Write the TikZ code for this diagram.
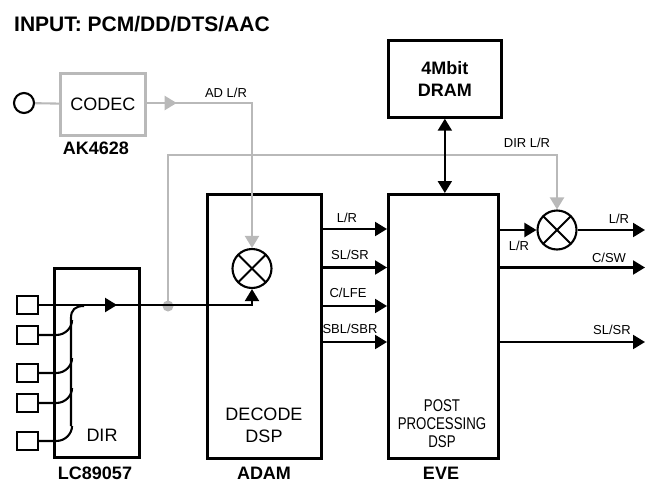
\documentclass[tikz,border=0pt]{standalone}
\usepackage{fontspec}
\setmainfont{Liberation Sans}
\usepackage{tikz}
\usetikzlibrary{arrows.meta, decorations.markings}
\definecolor{sigGray}{HTML}{B9B9B9}
\tikzset{
    >={Triangle[length=12pt,width=14pt]},
    sig/.style={line width=2.1pt},
    sigIn/.style={line width=2.1pt, sigGray},
    mid arrow/.style={postaction={decorate, decoration={markings, mark=at position #1 with {\arrow{>}}}}},
    chip/.style={draw, line width=2.7pt, anchor=north west, inner sep=0pt},
    chipIn/.style={chip, sigGray},
    pinBox/.style={draw, line width=2.1pt, minimum width=21pt, minimum height=18pt, inner sep=0pt},
    mixer/.style={circle, draw, line width=2.1pt, minimum size=39pt, inner sep=0pt,
        path picture={
            \draw[line width=2.1pt] (path picture bounding box.north west) -- (path picture bounding box.south east);
            \draw[line width=2.1pt] (path picture bounding box.north east) -- (path picture bounding box.south west);
        }},
    sigLabel/.style={font=\fontsize{13}{15}\selectfont},
    bigText/.style={font=\fontsize{18}{22}\selectfont, align=center},
    chipName/.style={font=\fontsize{18}{22}\selectfont\bfseries, align=center}
}

\begin{document}
\begin{tikzpicture}[x=1pt, y=-1pt]
    \useasboundingbox (0,0) rectangle (645,482);

    \node[anchor=west, inner sep=0pt, font=\fontsize{21}{25}\selectfont\bfseries] (title) at (14,24) {INPUT: PCM/DD/DTS/AAC};

    % blocks
    \node[chipIn, minimum width=85pt, minimum height=62pt] (codec) at (59,72) {};
    \node[bigText] (codecText) at (codec.center) {CODEC};
    \node[chip, minimum width=85pt, minimum height=189pt] (dir) at (53,267) {};
    \node[chip, minimum width=114pt, minimum height=264pt] (adam) at (206,193) {};
    \node[chip, minimum width=110pt, minimum height=264pt] (eve) at (387,193) {};
    \node[chip, minimum width=113pt, minimum height=77pt, chipName] (dram) at (387,39) {4Mbit\\DRAM};

    \node[circle, draw, line width=2.1pt, minimum size=20pt, inner sep=0pt] (jack) at (24,103) {};
    \node[mixer] (mixA) at (252,268.5) {};
    \node[mixer] (mixB) at (557,230) {};
    \node[circle, fill=sigGray, minimum size=11pt, inner sep=0pt] (tap) at (168,306) {};

    \foreach \pinName/\ypos in {pinA/305, pinB/335, pinC/373, pinD/403, pinE/441}
        \node[pinBox] (\pinName) at (27.5,\ypos) {};

    % gray paths
    \draw[sigIn] (jack) -- (codec);
    \draw[sigIn, ->, mid arrow=30pt] (codec.east |- jack) -- (mixA |- jack) -- (mixA.north);
    \draw[sigIn, ->] (tap.center) -- (tap |- 0,155) -- (mixB |- 0,155) -- (mixB.north);

    % black paths
    \draw[sig, ->, mid arrow=78pt] (pinA.east) -- (mixA |- pinA) -- (mixA.south);
    \draw[sig] (84,306) .. controls (75,306) and (71,310) .. (71,318) -- (71,426);
    \foreach \pinName in {pinB, pinC, pinD, pinE}
        \draw[sig] (\pinName.east) -- ++(17,0) .. controls +(10,0) and +(0,7) .. ++(16,-15);

    \draw[sig, <->] (dram.south) -- (dram.south |- eve.north);

    \foreach \ypos in {229, 267.5, 306, 342}
        \draw[sig, ->] (adam.east |- 0,\ypos) -- (eve.west |- 0,\ypos);

    \draw[sig, ->] (eve.east |- mixB) -- (mixB.west);
    \draw[sig, ->] (mixB.east) -- (645,230);
    \draw[sig, ->] (eve.east |- 0,267.5) -- (645,267.5);
    \draw[sig, ->] (eve.east |- 0,342) -- (645,342);

    % signal labels
    \node[sigLabel] (lblAd) at (226,93) {AD L/R};
    \node[sigLabel] (lblDir) at (527,143) {DIR L/R};
    \node[sigLabel] (lblA) at (347,218) {L/R};
    \node[sigLabel] (lblB) at (350,255) {SL/SR};
    \node[sigLabel] (lblC) at (348,293) {C/LFE};
    \node[sigLabel] (lblD) at (350,329) {SBL/SBR};
    \node[sigLabel] (lblE) at (519,246) {L/R};
    \node[sigLabel] (lblF) at (619,219) {L/R};
    \node[sigLabel] (lblG) at (609,258) {C/SW};
    \node[sigLabel] (lblH) at (612,330) {SL/SR};

    % block texts
    \node[bigText] (dirText) at (102,435) {DIR};
    \node[bigText] (adamText) at (264,425) {DECODE\\DSP};
    \node[bigText, font=\fontsize{17}{18}\selectfont, xscale=.78] (eveText) at (442,424) {POST\\PROCESSING\\DSP};

    \node[chipName] (codecName) at (96,148) {AK4628};
    \node[chipName] (dirName) at (95,473) {LC89057};
    \node[chipName] (adamName) at (264,473) {ADAM};
    \node[chipName] (eveName) at (441,473) {EVE};

\end{tikzpicture}
\end{document}
